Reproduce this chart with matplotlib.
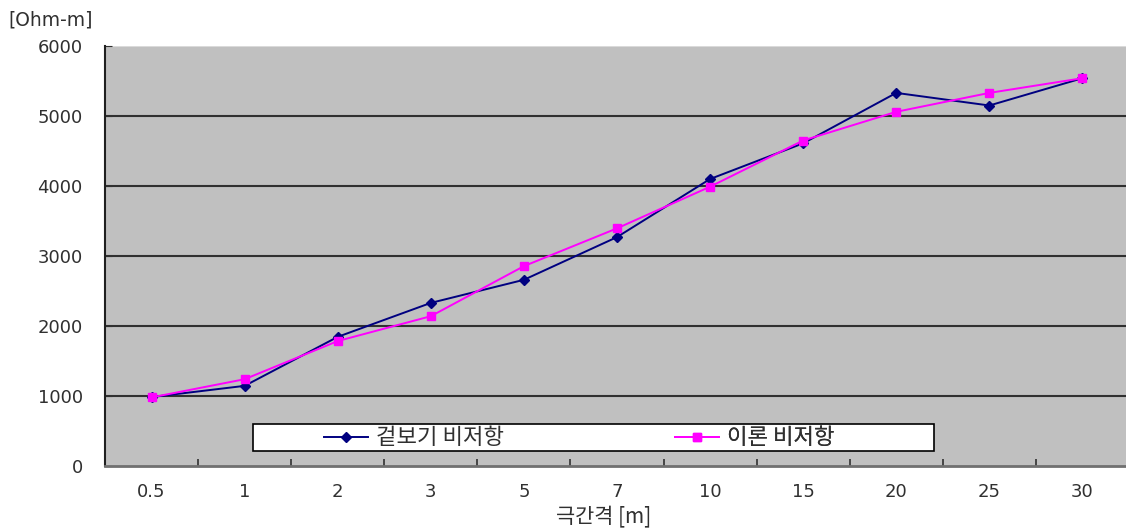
import numpy as np
import matplotlib.pyplot as plt
from matplotlib.patches import Rectangle
from matplotlib.lines import Line2D

plt.rcParams['font.family'] = ['DejaVu Sans', 'Noto Sans CJK KR']

# electrode spacing categories and resistivity series
spacing = ["0.5", "1", "2", "3", "5", "7", "10", "15", "20", "25", "30"]
apparent = [985, 1145, 1845, 2330, 2660, 3270, 4100, 4610, 5330, 5150, 5540]
theory = [980, 1240, 1785, 2140, 2855, 3395, 3990, 4650, 5060, 5330, 5540]
yticks = [0, 1000, 2000, 3000, 4000, 5000, 6000]
names = ["겉보기 비저항", "이론 비저항"]

W, H = 1126, 531
fig = plt.figure(figsize=(W / 100, H / 100), dpi=100)
# plot area in pixels: left 105, right 1129, top 46, bottom 466
ax = fig.add_axes([105 / W, 1 - 466 / H, 1024 / W, 420 / H])
ax.set_facecolor("#c0c0c0")


def ax_x(px):
    return (px - 105) / 1024


def ax_y(py):
    return (466 - py) / 420


x = np.arange(len(spacing))
ax.plot(x, apparent, color="#000080", lw=1.4, marker="D", ms=5, zorder=3)
ax.plot(x, theory, color="#ff00ff", lw=1.4, marker="s", ms=6, zorder=3)

ax.set_xlim(-0.5, len(spacing) - 0.5)
ax.set_ylim(0, 6000)
ax.set_yticks(yticks)
ax.set_xticks(x)
ax.set_xticklabels(spacing)
ax.set_xticks(np.arange(len(spacing) - 1) + 0.5, minor=True)

for v in yticks[1:-1]:
    ax.axhline(v, color="#303030", lw=1.5, zorder=1)
ax.axhline(6000, color="#e0e0e0", lw=1.2, zorder=1)

for s in ["top", "right"]:
    ax.spines[s].set_visible(False)
ax.spines["left"].set_color("#202020")
ax.spines["left"].set_linewidth(1.5)
ax.spines["bottom"].set_color("#707070")
ax.spines["bottom"].set_linewidth(2)

ax.tick_params(axis="x", which="major", length=0, pad=12, labelsize=13,
               labelcolor="#303030")
ax.tick_params(axis="x", which="minor", direction="in", length=5,
               color="#303030", width=1.2)
ax.tick_params(axis="y", direction="in", length=5, pad=16, labelsize=13,
               labelcolor="#303030", color="#303030")

# legend box with two entries placed along it
ax.add_patch(Rectangle((ax_x(253), ax_y(451)), ax_x(934) - ax_x(253),
                       ax_y(424) - ax_y(451), transform=ax.transAxes,
                       facecolor="white", edgecolor="black", lw=1.2,
                       zorder=4))
handles = [
    Line2D([], [], color="#000080", lw=1.4, marker="D", ms=5),
    Line2D([], [], color="#ff00ff", lw=1.4, marker="s", ms=6),
]
starts = [324, 675]
for h, name, px in zip(handles, names, starts):
    leg = ax.legend([h], [name], loc="center left",
                    bbox_to_anchor=(ax_x(px), ax_y(438)),
                    frameon=False, borderpad=0, borderaxespad=0,
                    handlelength=2.0, handletextpad=0.35,
                    prop={"family": ["Noto Sans CJK KR", "DejaVu Sans"],
                          "size": 16})
    leg.set_zorder(5)
    for t in leg.get_texts():
        t.set_color("#303030")
    ax.add_artist(leg)

fig.text(8 / W, 1 - 20 / H, "[Ohm-m]", fontsize=13.5, color="#303030",
         va="center", ha="left")
fig.text(604 / W, 1 - 517 / H, "극간격 [m]", fontsize=15, color="#303030",
         va="center", ha="center",
         family=["Noto Sans CJK KR", "DejaVu Sans"])

fig.savefig("out.png", dpi=100)
